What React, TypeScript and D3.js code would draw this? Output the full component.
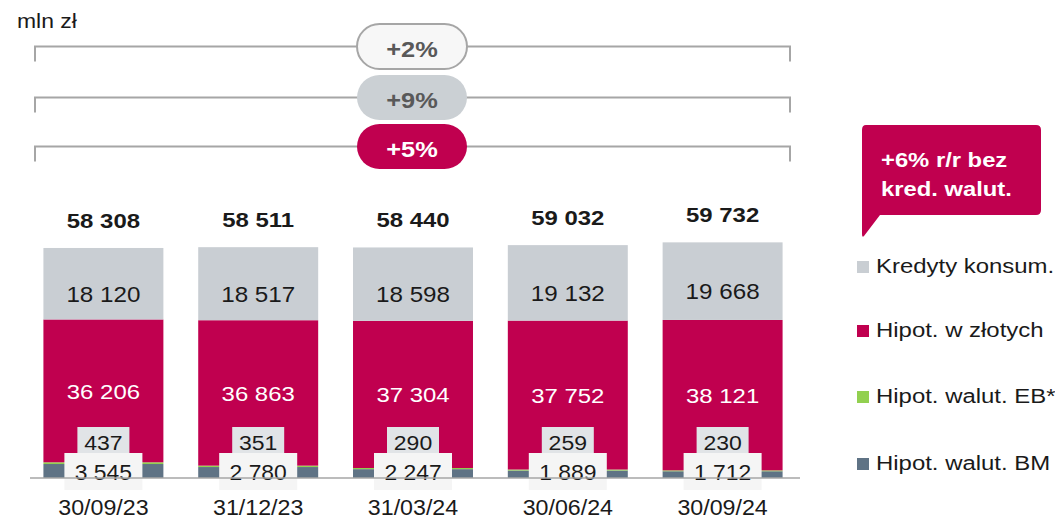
import React from 'react';
import * as d3 from 'd3';

const categories = ['30/09/23', '31/12/23', '31/03/24', '30/06/24', '30/09/24'];
const kredytyKonsum = [18120, 18517, 18598, 19132, 19668];
const hipotPln = [36206, 36863, 37304, 37752, 38121];
const hipotWalutEB = [437, 351, 290, 259, 230];
const hipotWalutBM = [3545, 2780, 2247, 1889, 1712];
const totals = [58308, 58511, 58440, 59032, 59732];
const growthLabels = ['+2%', '+9%', '+5%'];
const legendLabels = ['Kredyty konsum.', 'Hipot. w złotych', 'Hipot. walut. EB*', 'Hipot. walut. BM'];

const C_GRAY = '#c9ced3';
const C_PINK = '#c0004f';
const C_GREEN = '#92d050';
const C_SLATE = '#5f7385';
const C_TEXT = '#1a1a1a';
const FONT = '"Liberation Sans", Arial, sans-serif';

const fmt = (v: number) => d3.format(',')(v).replace(/,/g, ' ');

// text with a slight horizontal stretch, like the source rendering
function T({ x, y, size, sx = 1.14, anchor = 'middle', bold = false, fill = C_TEXT, children }: any) {
  return (
    <text
      transform={`translate(${x},${y}) scale(${sx},1)`}
      textAnchor={anchor}
      fontSize={size}
      fontWeight={bold ? 'bold' : 'normal'}
      fill={fill}
    >
      {children}
    </text>
  );
}

export default function App() {
  const width = 1055;
  const height = 519;
  const baseY = 478;

  const x = d3.scaleBand<string>()
    .domain(categories)
    .range([26, 800])
    .paddingInner(0.225)
    .paddingOuter(0.1125);
  const y = d3.scaleLinear().domain([0, 60000]).range([baseY, 241.3]);
  const bw = x.bandwidth();

  // stacked from bottom: BM, EB, PLN, konsum
  const stackKeys = [hipotWalutBM, hipotWalutEB, hipotPln, kredytyKonsum];
  const stackColors = [C_SLATE, C_GREEN, C_PINK, C_GRAY];

  const pillStyles = [
    { fill: '#f7f7f7', stroke: '#a6a6a6', text: '#595959' },
    { fill: '#cbd0d4', stroke: 'none', text: '#595959' },
    { fill: C_PINK, stroke: 'none', text: '#ffffff' },
  ];
  const bracketY = [46.5, 97.5, 146.5];
  const legendBase = [273, 337, 403, 470];
  const legendColors = [C_GRAY, C_PINK, C_GREEN, C_SLATE];

  const cx0 = 412;

  return (
    <svg width={width} height={height} style={{ position: 'absolute', left: 0, top: 0, fontFamily: FONT }}>
      <rect width={width} height={height} fill="#ffffff" />
      <T x={17} y={28} size={20.5} anchor="start" sx={1.12}>mln zł</T>

      {growthLabels.map((g, i) => {
        const by = bracketY[i];
        const st = pillStyles[i];
        return (
          <g key={g}>
            <path d={`M35,${by + 15}V${by}H790V${by + 15}`} fill="none" stroke="#a6a6a6" strokeWidth={2} />
            <rect x={cx0 - 55} y={by - 22.5} width={110} height={45} rx={22.5} fill={st.fill} stroke={st.stroke} strokeWidth={2} />
            <T x={cx0} y={by + 10.5} size={21.5} sx={1.18} bold fill={st.text}>{g}</T>
          </g>
        );
      })}

      {categories.map((c, i) => {
        let acc = 0;
        const x0 = x(c)!;
        const cx = x0 + bw / 2;
        const topY = y(totals[i]);
        const konsumBottom = y(totals[i] - kredytyKonsum[i]);
        const plnBottom = y(hipotWalutBM[i] + hipotWalutEB[i]);
        return (
          <g key={c}>
            {stackKeys.map((arr, k) => {
              const y0 = y(acc);
              acc += arr[i];
              const y1 = y(acc);
              return <rect key={k} x={x0} y={y1} width={bw} height={y0 - y1} fill={stackColors[k]} />;
            })}
            <T x={cx} y={(topY + konsumBottom) / 2 + 18} size={22} sx={1.1}>{fmt(kredytyKonsum[i])}</T>
            <T x={cx} y={(konsumBottom + plnBottom) / 2 + 8} size={21} sx={1.14} fill="#ffffff">{fmt(hipotPln[i])}</T>
            <rect x={cx - 26} y={427} width={52} height={26} fill="#e1e4e7" />
            <T x={cx} y={450} size={19.5} sx={1.18}>{fmt(hipotWalutEB[i])}</T>
            <rect x={cx - 39} y={453} width={78} height={37} fill="#f5f5f5" />
            <T x={cx} y={480} size={22} sx={1.04}>{fmt(hipotWalutBM[i])}</T>
            <T x={cx} y={topY - 20} size={21} sx={1.14} bold>{fmt(totals[i])}</T>
            <T x={cx} y={515} size={21.5} sx={1.08}>{c}</T>
          </g>
        );
      })}

      <line x1={30} x2={800} y1={baseY} y2={baseY} stroke="#a6a6a6" strokeWidth={1.5} />

      <path d="M866,125H1036Q1041,125 1041,130V210Q1041,215 1036,215H880L864,236Q862,238 862,234V130Q862,125 866,125Z" fill={C_PINK} />
      <T x={881} y={167} size={20} sx={1.19} anchor="start" bold fill="#ffffff">+6% r/r bez</T>
      <T x={881} y={196} size={20} sx={1.19} anchor="start" bold fill="#ffffff">kred. walut.</T>

      {legendLabels.map((l, i) => (
        <g key={l}>
          <rect x={857} y={legendBase[i] - 12} width={12} height={12} fill={legendColors[i]} />
          <T x={876} y={legendBase[i]} size={21} sx={1.14} anchor="start">{l}</T>
        </g>
      ))}
    </svg>
  );
}
